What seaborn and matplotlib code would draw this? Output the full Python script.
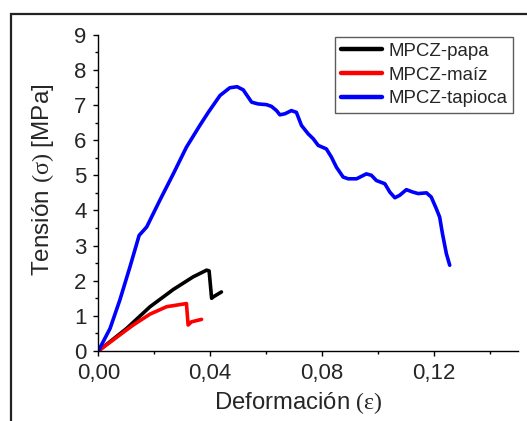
import matplotlib
matplotlib.use("Agg")
import matplotlib.pyplot as plt
import seaborn as sns
import pandas as pd
from matplotlib.patches import Rectangle
from matplotlib.ticker import MultipleLocator, FuncFormatter

# ---- data ----
series_names = ["MPCZ-papa", "MPCZ-maíz", "MPCZ-tapioca"]

papa_x = [0.0, 0.0101, 0.0185, 0.0268, 0.0339, 0.0387, 0.0396, 0.0405, 0.0411, 0.0440]
papa_y = [0.0, 0.64, 1.26, 1.75, 2.11, 2.30, 2.28, 1.50, 1.54, 1.68]

maiz_x = [0.0, 0.0101, 0.0125, 0.0185, 0.0244, 0.0315, 0.0321, 0.0333, 0.0369]
maiz_y = [0.0, 0.60, 0.74, 1.05, 1.26, 1.35, 0.74, 0.83, 0.90]

tapioca_x = [0.0, 0.0042, 0.0077, 0.0113, 0.0146, 0.0173, 0.0220, 0.0268, 0.0315,
             0.0363, 0.0393, 0.0435, 0.0470, 0.0496, 0.0518, 0.0548, 0.0571, 0.0601,
             0.0619, 0.0637, 0.0649, 0.0667, 0.0690, 0.0708, 0.0726, 0.0750, 0.0768,
             0.0786, 0.0815, 0.0833, 0.0851, 0.0875, 0.0893, 0.0923, 0.0958, 0.0976,
             0.0994, 0.1024, 0.1042, 0.1060, 0.1077, 0.1101, 0.1125, 0.1143, 0.1173,
             0.1190, 0.1208, 0.1220, 0.1230, 0.1244, 0.1256]
tapioca_y = [0.0, 0.64, 1.45, 2.39, 3.29, 3.53, 4.29, 5.04, 5.80,
             6.42, 6.79, 7.27, 7.49, 7.52, 7.43, 7.08, 7.03, 7.01,
             6.96, 6.84, 6.72, 6.75, 6.84, 6.79, 6.42, 6.18, 6.04,
             5.85, 5.75, 5.52, 5.23, 4.95, 4.90, 4.90, 5.04, 5.00,
             4.85, 4.76, 4.52, 4.36, 4.43, 4.59, 4.52, 4.48, 4.50,
             4.38, 4.05, 3.81, 3.34, 2.77, 2.44]

x_ticks = [0.00, 0.04, 0.08, 0.12]
y_ticks = [0, 1, 2, 3, 4, 5, 6, 7, 8, 9]

colors = {"MPCZ-papa": "#000000", "MPCZ-maíz": "#ff0000", "MPCZ-tapioca": "#0000ff"}

frames = []
for name, xs, ys in [(series_names[0], papa_x, papa_y),
                     (series_names[1], maiz_x, maiz_y),
                     (series_names[2], tapioca_x, tapioca_y)]:
    frames.append(pd.DataFrame({"x": xs, "y": ys, "serie": name}))
df = pd.concat(frames, ignore_index=True)

# ---- style ----
sns.set_style("white")
plt.rcParams["font.family"] = ["Liberation Sans", "DejaVu Sans"]
plt.rcParams["mathtext.fontset"] = "custom"
plt.rcParams["mathtext.rm"] = "Liberation Serif"
plt.rcParams["mathtext.it"] = "Liberation Serif"

W, H = 527, 421
fig = plt.figure(figsize=(W / 100, H / 100), dpi=100)
ax = fig.add_axes([98.3 / W, 1 - 351 / H, (518 - 98.3) / W, (351 - 34.7) / H])

sns.lineplot(data=df, x="x", y="y", hue="serie", hue_order=series_names,
             palette=colors, sort=False, estimator=None, units="serie",
             linewidth=2.6, ax=ax, legend=True)

ax.set_xlim(0, 0.15)
ax.set_ylim(0, 9)
ax.set_xticks(x_ticks)
ax.set_yticks(y_ticks)
ax.xaxis.set_minor_locator(MultipleLocator(0.02))
ax.yaxis.set_minor_locator(MultipleLocator(0.5))
ax.xaxis.set_major_formatter(FuncFormatter(lambda v, p: f"{v:.2f}".replace(".", ",")))
ax.yaxis.set_major_formatter(FuncFormatter(lambda v, p: f"{v:.0f}"))

for s in ["top", "right"]:
    ax.spines[s].set_visible(False)
for s in ["left", "bottom"]:
    ax.spines[s].set_color("black")
    ax.spines[s].set_linewidth(1.0)

ax.tick_params(which="both", direction="out", color="black", width=1.0)
ax.tick_params(which="major", length=3.5, labelsize=16, pad=5)
ax.tick_params(which="minor", length=2.5)
ax.tick_params(axis="both", which="both", bottom=True, left=True, top=False, right=False)

ax.set_xlabel(r"Deformación $\mathrm{(\varepsilon)}$", fontsize=17.2)
ax.set_ylabel(r"Tensión $\mathrm{(\sigma)}$ [MPa]", fontsize=17.5)
ax.xaxis.set_label_coords(0.476, -0.125)
ax.yaxis.set_label_coords(-0.100, 0.54)

handles, labels = ax.get_legend_handles_labels()
leg = ax.legend(handles, labels, loc="upper right",
                bbox_to_anchor=(513 / W, 1 - 37 / H), bbox_transform=fig.transFigure,
                fontsize=13.4, frameon=True, fancybox=False, borderaxespad=0,
                handlelength=2.2, handletextpad=0.35, labelspacing=0.36,
                borderpad=0.32)
leg.get_frame().set_edgecolor("#333333")
leg.get_frame().set_linewidth(1.0)
for line in leg.get_lines():
    line.set_linewidth(3.2)

# outer frame
fig.patches.append(Rectangle((10.7 / W, -0.1), 1.2, (1 - 14 / H) + 0.1,
                             transform=fig.transFigure, fill=False,
                             edgecolor="#222222", linewidth=1.6, zorder=0))

fig.savefig("out.png", dpi=100)
